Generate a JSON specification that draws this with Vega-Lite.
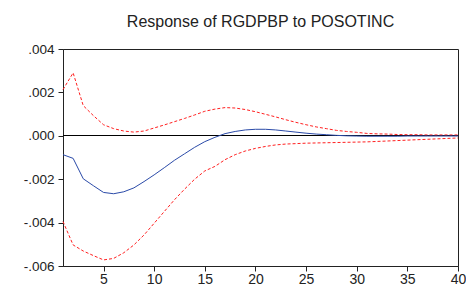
{
  "$schema": "https://vega.github.io/schema/vega-lite/v6.json",
  "autosize": "none",
  "width": 395,
  "height": 217,
  "padding": {"left": 63, "top": 49, "right": 8, "bottom": 21},
  "background": "white",
  "title": {"text": "Response of RGDPBP to POSOTINC", "font": "Liberation Sans", "fontSize": 16, "fontWeight": "normal", "color": "#222222", "offset": 12, "anchor": "middle"},
  "config": {
    "view": {"stroke": "#222222", "strokeWidth": 1},
    "axis": {"labelFont": "Liberation Sans", "labelFontSize": 13.5, "labelColor": "#222222", "domainColor": "#222222", "tickColor": "#222222", "tickSize": 5, "grid": false, "title": null}
  },
  "data": {"values": [
    {"step": 1, "resp": -0.00087, "lo": -0.00395, "hi": 0.00213},
    {"step": 2, "resp": -0.00104, "lo": -0.00503, "hi": 0.00290},
    {"step": 3, "resp": -0.00198, "lo": -0.00531, "hi": 0.00139},
    {"step": 4, "resp": -0.00230, "lo": -0.00552, "hi": 0.00093},
    {"step": 5, "resp": -0.00261, "lo": -0.00572, "hi": 0.00051},
    {"step": 6, "resp": -0.00267, "lo": -0.00565, "hi": 0.00033},
    {"step": 7, "resp": -0.00258, "lo": -0.00539, "hi": 0.00022},
    {"step": 8, "resp": -0.00240, "lo": -0.00503, "hi": 0.00017},
    {"step": 9, "resp": -0.00211, "lo": -0.00457, "hi": 0.00022},
    {"step": 10, "resp": -0.00180, "lo": -0.00403, "hi": 0.00036},
    {"step": 11, "resp": -0.00147, "lo": -0.00349, "hi": 0.00050},
    {"step": 12, "resp": -0.00113, "lo": -0.00295, "hi": 0.00065},
    {"step": 13, "resp": -0.00083, "lo": -0.00246, "hi": 0.00080},
    {"step": 14, "resp": -0.00053, "lo": -0.00200, "hi": 0.00096},
    {"step": 15, "resp": -0.00027, "lo": -0.00162, "hi": 0.00113},
    {"step": 16, "resp": -0.00007, "lo": -0.00141, "hi": 0.00123},
    {"step": 17, "resp": 0.00010, "lo": -0.00110, "hi": 0.00130},
    {"step": 18, "resp": 0.00020, "lo": -0.00087, "hi": 0.00128},
    {"step": 19, "resp": 0.00027, "lo": -0.00070, "hi": 0.00121},
    {"step": 20, "resp": 0.00030, "lo": -0.00058, "hi": 0.00111},
    {"step": 21, "resp": 0.00030, "lo": -0.00049, "hi": 0.00099},
    {"step": 22, "resp": 0.00027, "lo": -0.00042, "hi": 0.00087},
    {"step": 23, "resp": 0.00022, "lo": -0.00038, "hi": 0.00074},
    {"step": 24, "resp": 0.00017, "lo": -0.00036, "hi": 0.00062},
    {"step": 25, "resp": 0.00012, "lo": -0.00034, "hi": 0.00051},
    {"step": 26, "resp": 0.00008, "lo": -0.00033, "hi": 0.00041},
    {"step": 27, "resp": 0.00005, "lo": -0.00032, "hi": 0.00033},
    {"step": 28, "resp": 0.00002, "lo": -0.00031, "hi": 0.00025},
    {"step": 29, "resp": 0.00000, "lo": -0.00030, "hi": 0.00020},
    {"step": 30, "resp": -0.00001, "lo": -0.00029, "hi": 0.00016},
    {"step": 31, "resp": -0.00002, "lo": -0.00028, "hi": 0.00011},
    {"step": 32, "resp": -0.00002, "lo": -0.00026, "hi": 0.00009},
    {"step": 33, "resp": -0.00002, "lo": -0.00024, "hi": 0.00008},
    {"step": 34, "resp": -0.00002, "lo": -0.00022, "hi": 0.00006},
    {"step": 35, "resp": -0.00001, "lo": -0.00020, "hi": 0.00005},
    {"step": 36, "resp": -0.00001, "lo": -0.00018, "hi": 0.00005},
    {"step": 37, "resp": -0.00001, "lo": -0.00016, "hi": 0.00004},
    {"step": 38, "resp": -0.00001, "lo": -0.00014, "hi": 0.00004},
    {"step": 39, "resp": -0.00001, "lo": -0.00012, "hi": 0.00004},
    {"step": 40, "resp": -0.00001, "lo": -0.00010, "hi": 0.00004}
  ]},
  "encoding": {
    "x": {"field": "step", "type": "quantitative", "scale": {"domain": [1, 40], "nice": false, "zero": false},
          "axis": {"values": [5, 10, 15, 20, 25, 30, 35, 40], "labelPadding": 1, "labelFlush": false, "labelFontSize": 14}}
  },
  "layer": [
    {
      "mark": {"type": "rule", "color": "#000000", "strokeWidth": 1, "yOffset": -0.3},
      "encoding": {"y": {"datum": 0, "type": "quantitative"}, "x": null}
    },
    {
      "mark": {"type": "line", "color": "#ff2020", "strokeWidth": 1, "strokeDash": [3, 2]},
      "encoding": {
        "y": {"field": "hi", "type": "quantitative", "scale": {"domain": [-0.006, 0.004], "nice": false},
              "axis": {"values": [-0.006, -0.004, -0.002, 0, 0.002, 0.004], "labelPadding": 4,
                       "labelExpr": "datum.value == 0 ? '.000' : replace(replace(format(datum.value, '.3f'), '0.', '.'), '\u2212', '-')"}}
      }
    },
    {
      "mark": {"type": "line", "color": "#ff2020", "strokeWidth": 1, "strokeDash": [3, 2]},
      "encoding": {"y": {"field": "lo", "type": "quantitative"}}
    },
    {
      "mark": {"type": "line", "color": "#2a4aa8", "strokeWidth": 1},
      "encoding": {"y": {"field": "resp", "type": "quantitative"}}
    }
  ]
}
